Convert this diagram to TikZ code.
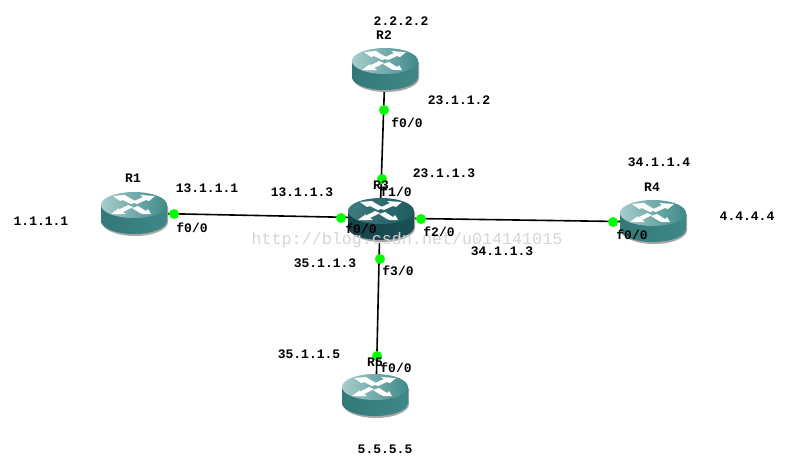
\documentclass[tikz,border=0pt]{standalone}
\usepackage{fontspec}
\setmainfont{Liberation Mono}
\definecolor{tealtop}{HTML}{3F8A8A}
\definecolor{teallight}{HTML}{A8CCCC}
\definecolor{tealside}{HTML}{3F8888}
\definecolor{tealsidedark}{HTML}{347878}
\definecolor{darktop}{HTML}{1D5B60}
\definecolor{darklight}{HTML}{3F7C80}
\definecolor{darkside}{HTML}{1A5055}
\definecolor{darksidedark}{HTML}{154348}
\tikzset{
  x=1pt,y=-1pt,
  link/.style={line width=1.6pt,black},
  port/.style={circle,fill=green,inner sep=0pt,minimum size=10pt},
  lab/.style={font=\fontsize{13}{14}\selectfont\bfseries,text=black,inner sep=0pt},
  pics/routerbox/.style n args={4}{code={
    \fill[black!35] (-32,1) -- (-32,17) arc[start angle=180,end angle=0,x radius=33,y radius=14] -- (34,1) -- cycle;
    \shade[left color=#3,right color=#4] (-33,0) -- (-33,16) arc[start angle=180,end angle=0,x radius=33,y radius=13] -- (33,0) -- cycle;
    \shade[left color=#2,middle color=#1,right color=#1] (0,0) ellipse[x radius=33,y radius=13];
    \fill[white] (-21,-9) -- (-9,-10) -- (-6,-8) -- (3,-3) -- (-3,-1) -- (-11,-5) -- (-14,-4) -- cycle;
    \fill[white] (21,-9) -- (6,-10) -- (9,-8) -- (-2,-3) -- (3,-1) -- (12,-5) -- (15,-4) -- cycle;
    \fill[white] (-23,9) -- (-8,9) -- (-11,7) -- (-1,2) -- (-6,0) -- (-16,5) -- (-15,3) -- cycle;
    \fill[white] (17,9) -- (9,9) -- (6,8) -- (-2,3) -- (4,1) -- (12,6) -- (14,4) -- cycle;
  }}
}
\begin{document}
\begin{tikzpicture}
\useasboundingbox (0,0) rectangle (794,461);
\fill[white] (0,0) rectangle (794,461);
\coordinate (R1) at (134,213);
\coordinate (R2) at (385,70);
\coordinate (R3) at (380,218);
\coordinate (R4) at (653,222);
\coordinate (R5) at (376,395);
\draw[link] (R1) -- (R3);
\draw[link] (R2) -- (R3);
\draw[link] (R3) -- (R4);
\draw[link] (R3) -- (R5);
\pic at (134,205) {routerbox={tealtop}{teallight}{tealsidedark}{tealside}};
\pic at (385,61) {routerbox={tealtop}{teallight}{tealsidedark}{tealside}};
\pic at (381,211) {routerbox={darktop}{darklight}{darksidedark}{darkside}};
\pic at (653,213) {routerbox={tealtop}{teallight}{tealsidedark}{tealside}};
\pic at (375,387) {routerbox={tealtop}{teallight}{tealsidedark}{tealside}};
\node[port] (p1) at (174,214) {};
\node[port] (p2) at (341,218) {};
\node[port] (p3) at (382,179) {};
\node[port] (p4) at (384,110) {};
\node[port] (p5) at (421,219) {};
\node[port] (p6) at (613,222) {};
\node[port] (p7) at (380,259) {};
\node[port] (p8) at (377,356) {};
\node[font=\fontsize{16.7}{20}\selectfont,text=black!16,inner sep=0pt] (wm) at (407,240) {http://blog.csdn.net/u014141015};
\node[lab] (a1) at (401,21) {2.2.2.2};
\node[lab] (a2) at (384,35) {R2};
\node[lab] (a3) at (459,100) {23.1.1.2};
\node[lab] (a4) at (407,123) {f0/0};
\node[lab] (a5) at (444,173) {23.1.1.3};
\node[lab] (a6) at (381,185) {R3};
\node[lab] (a7) at (396,192) {f1/0};
\node[lab] (a8) at (302,192) {13.1.1.3};
\node[lab] (a9) at (207,188) {13.1.1.1};
\node[lab] (a10) at (133,178) {R1};
\node[lab] (a11) at (192,228) {f0/0};
\node[lab] (a12) at (41,221) {1.1.1.1};
\node[lab] (a13) at (361,229) {f0/0};
\node[lab] (a14) at (439,232) {f2/0};
\node[lab] (a15) at (502,251) {34.1.1.3};
\node[lab] (a16) at (325,263) {35.1.1.3};
\node[lab] (a17) at (398,271) {f3/0};
\node[lab] (a18) at (309,354) {35.1.1.5};
\node[lab] (a19) at (375,362) {R5};
\node[lab] (a20) at (396,368) {f0/0};
\node[lab] (a21) at (385,449) {5.5.5.5};
\node[lab] (a22) at (659,162) {34.1.1.4};
\node[lab] (a23) at (652,187) {R4};
\node[lab] (a24) at (632,235) {f0/0};
\node[lab] (a25) at (747,216) {4.4.4.4};
\end{tikzpicture}
\end{document}
